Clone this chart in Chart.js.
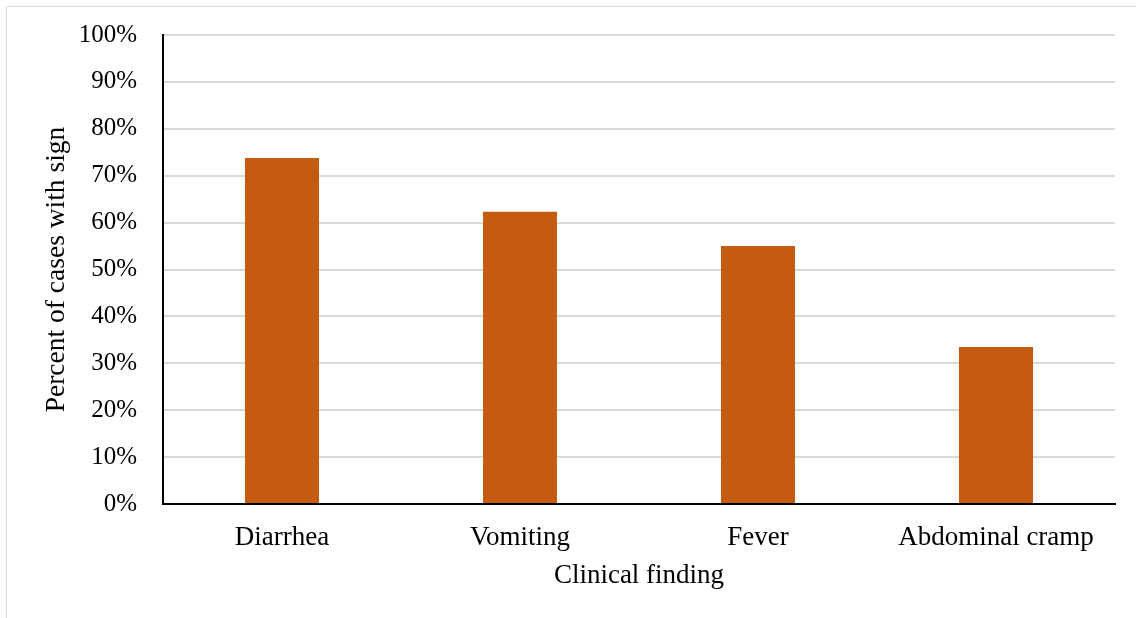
<!DOCTYPE html>
<html>
<head>
<meta charset="utf-8">
<script src="https://cdn.jsdelivr.net/npm/chart.js@4/dist/chart.umd.min.js"></script>
<style>
  html, body { margin: 0; padding: 0; background: #ffffff; }
  #wrap { position: relative; width: 1136px; height: 618px; }
</style>
</head>
<body>
<div id="wrap"><canvas id="c" width="1136" height="618"></canvas></div>
<script>
// Share of cases presenting each clinical sign
const findings = ['Diarrhea', 'Vomiting', 'Fever', 'Abdominal cramp'];
const percentCases = [73.8, 62.3, 55.0, 33.5];
const yTicks = [0, 10, 20, 30, 40, 50, 60, 70, 80, 90, 100];

const serif = '"Liberation Serif", "Times New Roman", serif';

// Thin light frame along the top and left edges of the figure
const framePlugin = {
  id: 'frame',
  beforeDraw(chart) {
    const ctx = chart.ctx;
    ctx.save();
    ctx.strokeStyle = '#d9d9d9';
    ctx.lineWidth = 1;
    ctx.beginPath();
    ctx.moveTo(6.5, chart.height);
    ctx.lineTo(6.5, 6.5);
    ctx.lineTo(chart.width, 6.5);
    ctx.stroke();
    ctx.restore();
  }
};

new Chart(document.getElementById('c'), {
  type: 'bar',
  data: {
    labels: findings,
    datasets: [{
      data: percentCases,
      backgroundColor: '#c55a11',
      borderWidth: 0,
      categoryPercentage: 1,
      barPercentage: 0.311
    }]
  },
  options: {
    responsive: false,
    animation: false,
    devicePixelRatio: 1,
    layout: { padding: { top: 35, right: 21, left: 0, bottom: 0 } },
    plugins: { legend: { display: false }, tooltip: { enabled: false } },
    scales: {
      x: {
        grid: { display: false, drawTicks: false },
        border: { color: '#000000', width: 2 },
        ticks: { color: '#000000', padding: 18, font: { family: serif, size: 27 } },
        title: {
          display: true,
          text: 'Clinical finding',
          color: '#000000',
          font: { family: serif, size: 27 },
          padding: { top: 0, bottom: 26 }
        },
        afterFit(scale) { scale.height = 114; }
      },
      y: {
        min: 0,
        max: 100,
        afterBuildTicks(scale) { scale.ticks = yTicks.map(v => ({ value: v })); },
        grid: { color: '#d9d9d9', lineWidth: 2, drawTicks: false },
        border: { color: '#000000', width: 2 },
        ticks: {
          color: '#000000',
          padding: 26,
          font: { family: serif, size: 25 },
          callback: v => v + '%'
        },
        title: {
          display: true,
          text: 'Percent of cases with sign',
          color: '#000000',
          font: { family: serif, size: 27.5 },
          padding: { top: 40, bottom: 0 }
        },
        afterFit(scale) {
          scale.width = 163;
          scale.paddingTop = 0;
          scale.paddingBottom = 0;
        }
      }
    }
  },
  plugins: [framePlugin]
});
</script>
</body>
</html>
